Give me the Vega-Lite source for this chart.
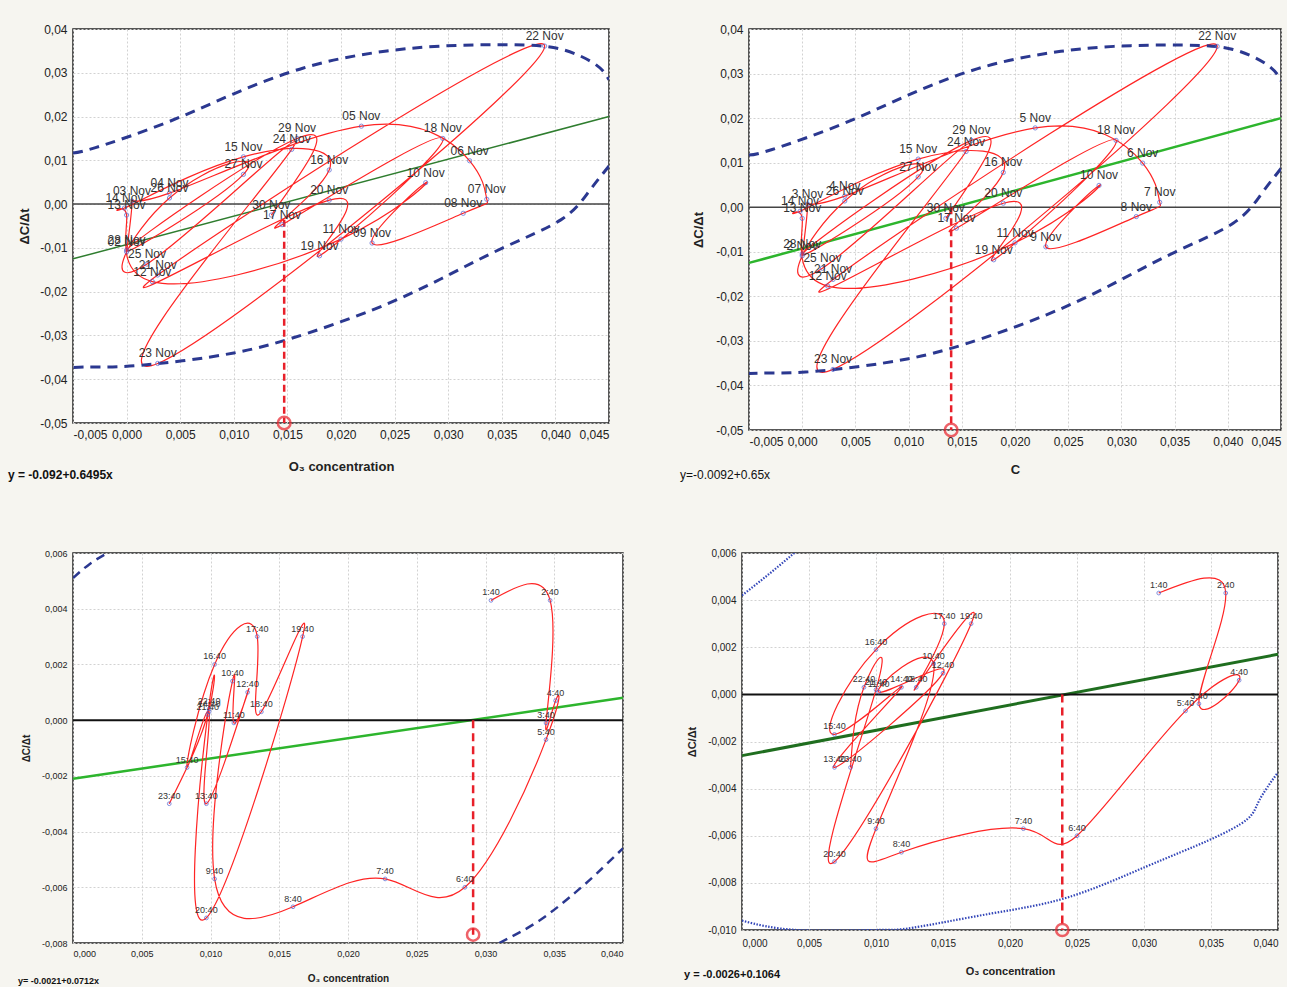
{
  "$schema": "https://vega.github.io/schema/vega-lite/v6.json",
  "padding": {"left": 7, "top": 22, "right": 0, "bottom": 0},
  "datasets": {
    "nov": [
      {"i": 2, "d1": "02 Nov", "d2": "2 Nov", "x": 0.0, "y": -0.0109},
      {"i": 3, "d1": "03 Nov", "d2": "3 Nov", "x": 0.0005, "y": 0.0007},
      {"i": 4, "d1": "04 Nov", "d2": "4 Nov", "x": 0.004, "y": 0.0025},
      {"i": 5, "d1": "05 Nov", "d2": "5 Nov", "x": 0.0219, "y": 0.0178},
      {"i": 6, "d1": "06 Nov", "d2": "6 Nov", "x": 0.032, "y": 0.0099},
      {"i": 7, "d1": "07 Nov", "d2": "7 Nov", "x": 0.0336, "y": 0.0011},
      {"i": 8, "d1": "08 Nov", "d2": "8 Nov", "x": 0.0314, "y": -0.0021},
      {"i": 9, "d1": "09 Nov", "d2": "9 Nov", "x": 0.0229, "y": -0.0089},
      {"i": 10, "d1": "10 Nov", "d2": "10 Nov", "x": 0.0279, "y": 0.0049},
      {"i": 11, "d1": "11 Nov", "d2": "11 Nov", "x": 0.02, "y": -0.008},
      {"i": 12, "d1": "12 Nov", "d2": "12 Nov", "x": 0.0024, "y": -0.0177},
      {"i": 13, "d1": "13 Nov", "d2": "13 Nov", "x": 0.0, "y": -0.0025},
      {"i": 14, "d1": "14 Nov", "d2": "14 Nov", "x": -0.0002, "y": -0.0009},
      {"i": 15, "d1": "15 Nov", "d2": "15 Nov", "x": 0.0109, "y": 0.0108},
      {"i": 16, "d1": "16 Nov", "d2": "16 Nov", "x": 0.0189, "y": 0.0078},
      {"i": 17, "d1": "17 Nov", "d2": "17 Nov", "x": 0.0145, "y": -0.0047},
      {"i": 18, "d1": "18 Nov", "d2": "18 Nov", "x": 0.0295, "y": 0.015},
      {"i": 19, "d1": "19 Nov", "d2": "19 Nov", "x": 0.018, "y": -0.0118},
      {"i": 20, "d1": "20 Nov", "d2": "20 Nov", "x": 0.0189, "y": 0.0009},
      {"i": 21, "d1": "21 Nov", "d2": "21 Nov", "x": 0.0029, "y": -0.0162},
      {"i": 22, "d1": "22 Nov", "d2": "22 Nov", "x": 0.039, "y": 0.0361},
      {"i": 23, "d1": "23 Nov", "d2": "23 Nov", "x": 0.0029, "y": -0.0364},
      {"i": 24, "d1": "24 Nov", "d2": "24 Nov", "x": 0.0154, "y": 0.0125},
      {"i": 25, "d1": "25 Nov", "d2": "25 Nov", "x": 0.0019, "y": -0.0137},
      {"i": 26, "d1": "26 Nov", "d2": "26 Nov", "x": 0.004, "y": 0.0014},
      {"i": 27, "d1": "27 Nov", "d2": "27 Nov", "x": 0.0109, "y": 0.0068},
      {"i": 28, "d1": "28 Nov", "d2": "28 Nov", "x": 0.0, "y": -0.0105},
      {"i": 29, "d1": "29 Nov", "d2": "29 Nov", "x": 0.0159, "y": 0.015},
      {"i": 30, "d1": "30 Nov", "d2": "30 Nov", "x": 0.0135, "y": -0.0025}
    ],
    "h3": [
      {"i": 1, "t": "1:40", "x": 0.0304, "y": 0.0043},
      {"i": 2, "t": "2:40", "x": 0.0347, "y": 0.0043},
      {"i": 3, "t": "3:40", "x": 0.0344, "y": -0.0001},
      {"i": 4, "t": "4:40", "x": 0.0351, "y": 0.0007},
      {"i": 5, "t": "5:40", "x": 0.0344, "y": -0.0007},
      {"i": 6, "t": "6:40", "x": 0.0285, "y": -0.006},
      {"i": 7, "t": "7:40", "x": 0.0227, "y": -0.0057},
      {"i": 8, "t": "8:40", "x": 0.016, "y": -0.0067},
      {"i": 9, "t": "9:40", "x": 0.0103, "y": -0.0057},
      {"i": 10, "t": "10:40", "x": 0.0116, "y": 0.0014},
      {"i": 11, "t": "11:40", "x": 0.0117, "y": -0.0001},
      {"i": 12, "t": "12:40", "x": 0.0127, "y": 0.001},
      {"i": 13, "t": "13:40", "x": 0.0097, "y": -0.003},
      {"i": 14, "t": "14:40", "x": 0.0099, "y": 0.0003},
      {"i": 15, "t": "15:40", "x": 0.0083, "y": -0.0017},
      {"i": 16, "t": "16:40", "x": 0.0103, "y": 0.002},
      {"i": 17, "t": "17:40", "x": 0.0134, "y": 0.003},
      {"i": 18, "t": "18:40", "x": 0.0137, "y": 0.0003},
      {"i": 19, "t": "19:40", "x": 0.0167, "y": 0.003},
      {"i": 20, "t": "20:40", "x": 0.0097, "y": -0.0071},
      {"i": 21, "t": "21:40", "x": 0.0098, "y": 0.0002},
      {"i": 22, "t": "22:40", "x": 0.0099, "y": 0.0004},
      {"i": 23, "t": "23:40", "x": 0.007, "y": -0.003}
    ],
    "h4": [
      {"i": 1, "t": "1:40", "x": 0.0311, "y": 0.0043},
      {"i": 2, "t": "2:40", "x": 0.0361, "y": 0.0043},
      {"i": 3, "t": "3:40", "x": 0.0341, "y": -0.0004},
      {"i": 4, "t": "4:40", "x": 0.0371, "y": 0.0006},
      {"i": 5, "t": "5:40", "x": 0.0331, "y": -0.0007},
      {"i": 6, "t": "6:40", "x": 0.025, "y": -0.006},
      {"i": 7, "t": "7:40", "x": 0.021, "y": -0.0057},
      {"i": 8, "t": "8:40", "x": 0.0119, "y": -0.0067},
      {"i": 9, "t": "9:40", "x": 0.01, "y": -0.0057},
      {"i": 10, "t": "10:40", "x": 0.0143, "y": 0.0013},
      {"i": 11, "t": "11:40", "x": 0.0102, "y": 0.0001},
      {"i": 12, "t": "12:40", "x": 0.015, "y": 0.0009},
      {"i": 13, "t": "13:40", "x": 0.0069, "y": -0.0031},
      {"i": 14, "t": "14:40", "x": 0.0119, "y": 0.0003},
      {"i": 15, "t": "15:40", "x": 0.0069, "y": -0.0017},
      {"i": 16, "t": "16:40", "x": 0.01, "y": 0.0019},
      {"i": 17, "t": "17:40", "x": 0.0151, "y": 0.003},
      {"i": 18, "t": "18:40", "x": 0.013, "y": 0.0003},
      {"i": 19, "t": "19:40", "x": 0.0171, "y": 0.003},
      {"i": 20, "t": "20:40", "x": 0.0069, "y": -0.0071},
      {"i": 21, "t": "21:40", "x": 0.01, "y": 0.0002},
      {"i": 22, "t": "22:40", "x": 0.0091, "y": 0.0003},
      {"i": 23, "t": "23:40", "x": 0.0081, "y": -0.0031}
    ],
    "e1": [
      {"s": "a", "i": 1, "x": -0.005, "y": 0.0117},
      {"s": "a", "i": 2, "x": -0.0029, "y": 0.0129},
      {"s": "a", "i": 3, "x": 0.0036, "y": 0.0185},
      {"s": "a", "i": 4, "x": 0.01, "y": 0.0252},
      {"s": "a", "i": 5, "x": 0.0165, "y": 0.0311},
      {"s": "a", "i": 6, "x": 0.0229, "y": 0.0345},
      {"s": "a", "i": 7, "x": 0.0293, "y": 0.0361},
      {"s": "a", "i": 8, "x": 0.0358, "y": 0.0364},
      {"s": "a", "i": 9, "x": 0.0405, "y": 0.0354},
      {"s": "a", "i": 10, "x": 0.0438, "y": 0.0318},
      {"s": "a", "i": 11, "x": 0.045, "y": 0.0284},
      {"s": "b", "i": 1, "x": 0.045, "y": 0.0087},
      {"s": "b", "i": 2, "x": 0.0431, "y": 0.0028},
      {"s": "b", "i": 3, "x": 0.0405, "y": -0.0036},
      {"s": "b", "i": 4, "x": 0.0351, "y": -0.01},
      {"s": "b", "i": 5, "x": 0.0293, "y": -0.0171},
      {"s": "b", "i": 6, "x": 0.0229, "y": -0.0242},
      {"s": "b", "i": 7, "x": 0.0152, "y": -0.0308},
      {"s": "b", "i": 8, "x": 0.01, "y": -0.034},
      {"s": "b", "i": 9, "x": 0.0052, "y": -0.0358},
      {"s": "b", "i": 10, "x": 0.0003, "y": -0.037},
      {"s": "b", "i": 11, "x": -0.0029, "y": -0.0372},
      {"s": "b", "i": 12, "x": -0.005, "y": -0.0373}
    ],
    "e3": [
      {"s": "a", "i": 1, "x": 0.0, "y": 0.0051},
      {"s": "a", "i": 2, "x": 0.0012, "y": 0.0056},
      {"s": "a", "i": 3, "x": 0.0025, "y": 0.006},
      {"s": "b", "i": 1, "x": 0.031, "y": -0.008},
      {"s": "b", "i": 2, "x": 0.0339, "y": -0.0072},
      {"s": "b", "i": 3, "x": 0.0365, "y": -0.0062},
      {"s": "b", "i": 4, "x": 0.0381, "y": -0.0055},
      {"s": "b", "i": 5, "x": 0.04, "y": -0.0046}
    ],
    "e4": [
      {"s": "a", "i": 1, "x": 0.0, "y": 0.0042},
      {"s": "a", "i": 2, "x": 0.002, "y": 0.0051},
      {"s": "a", "i": 3, "x": 0.0039, "y": 0.006},
      {"s": "b", "i": 1, "x": 0.0, "y": -0.0096},
      {"s": "b", "i": 2, "x": 0.0041, "y": -0.01},
      {"s": "b", "i": 3, "x": 0.0099, "y": -0.01},
      {"s": "b", "i": 4, "x": 0.0128, "y": -0.0099},
      {"s": "b", "i": 5, "x": 0.0186, "y": -0.0093},
      {"s": "b", "i": 6, "x": 0.0244, "y": -0.0086},
      {"s": "b", "i": 7, "x": 0.0302, "y": -0.0073},
      {"s": "b", "i": 8, "x": 0.0348, "y": -0.0062},
      {"s": "b", "i": 9, "x": 0.0377, "y": -0.0053},
      {"s": "b", "i": 10, "x": 0.0386, "y": -0.0045},
      {"s": "b", "i": 11, "x": 0.04, "y": -0.0033}
    ],
    "g1": [{"x": -0.005, "y": -0.0125}, {"x": 0.045, "y": 0.02}],
    "g2": [{"x": -0.005, "y": -0.0125}, {"x": 0.045, "y": 0.02}],
    "g3": [{"x": 0.0, "y": -0.0021}, {"x": 0.04, "y": 0.0008}],
    "g4": [{"x": 0.0, "y": -0.0026}, {"x": 0.04, "y": 0.0017}],
    "zt": [{"x": -0.005, "y": 0}, {"x": 0.045, "y": 0}],
    "zb": [{"x": 0.0, "y": 0}, {"x": 0.04, "y": 0}],
    "c1": [{"x": 0.0147, "y": -0.0036, "y2": -0.05}],
    "c2": [{"x": 0.014, "y": 0.0, "y2": -0.05}],
    "c3": [{"x": 0.0291, "y": 0.0, "y2": -0.0077}],
    "c4": [{"x": 0.0239, "y": 0.0, "y2": -0.01}],
    "o1": [{"x": 0.0147, "y": -0.05}],
    "o2": [{"x": 0.014, "y": -0.05}],
    "o3": [{"x": 0.0291, "y": -0.0077}],
    "o4": [{"x": 0.0239, "y": -0.01}]
  },
  "vconcat": [
    {
      "hconcat": [
        {
          "width": 536, "height": 394,
          "title": {"text": "y = -0.092+0.6495x", "orient": "bottom", "anchor": "start", "frame": "group", "dx": -65, "dy": -7, "fontSize": 12, "fontWeight": "bold", "color": "#111"},
          "encoding": {
            "x": {"field": "x", "type": "quantitative", "scale": {"domain": [-0.005, 0.045], "nice": false, "zero": false},
              "axis": {"values": [-0.005, 0, 0.005, 0.01, 0.015, 0.02, 0.025, 0.03, 0.035, 0.04, 0.045], "format": ".3f", "labelFontSize": 12, "labelPadding": 6, "title": "O₃ concentration", "titleFontSize": 13, "titleFontWeight": "bold", "titlePadding": 20}},
            "y": {"field": "y", "type": "quantitative", "scale": {"domain": [-0.05, 0.04], "nice": false, "zero": false},
              "axis": {"values": [-0.05, -0.04, -0.03, -0.02, -0.01, 0, 0.01, 0.02, 0.03, 0.04], "format": ".2f", "labelFontSize": 12, "labelPadding": 6, "title": "ΔC/Δt", "titleFontSize": 13, "titleFontWeight": "bold", "titlePadding": 8}}
          },
          "layer": [
            {"data": {"name": "g1"}, "mark": {"type": "line", "color": "#2f7d2f", "strokeWidth": 1.5}, "encoding": {}},
            {"data": {"name": "zt"}, "mark": {"type": "line", "color": "#444", "strokeWidth": 1.5}, "encoding": {}},
            {"data": {"name": "nov"}, "mark": {"type": "line", "interpolate": "natural", "color": "#ff2424", "strokeWidth": 1.2, "clip": true}, "encoding": {"order": {"field": "i", "type": "quantitative"}}},
            {"data": {"name": "e1"}, "mark": {"type": "line", "interpolate": "natural", "color": "#2b3890", "strokeWidth": 3, "strokeDash": [10, 7], "clip": true}, "encoding": {"detail": {"field": "s", "type": "nominal"}, "order": {"field": "i", "type": "quantitative"}}},
            {"data": {"name": "c1"}, "mark": {"type": "rule", "color": "#e8202a", "strokeWidth": 2.5, "strokeDash": [7, 4]}, "encoding": {"y2": {"field": "y2"}}},
            {"data": {"name": "o1"}, "mark": {"type": "point", "filled": false, "color": "#e8202a", "strokeWidth": 2.5, "size": 160}, "encoding": {}},
            {"data": {"name": "nov"}, "mark": {"type": "point", "filled": false, "color": "#4f5fd0", "strokeWidth": 1, "size": 18}, "encoding": {}},
            {"data": {"name": "nov"}, "mark": {"type": "text", "dy": -6, "baseline": "alphabetic", "fontSize": 12, "color": "#333"}, "encoding": {"text": {"field": "d1"}}}
          ]
        },
        {
          "width": 532, "height": 401,
          "title": {"text": "y=-0.0092+0.65x", "orient": "bottom", "anchor": "start", "frame": "group", "dx": -69, "dy": -10, "fontSize": 12, "fontWeight": "normal", "color": "#111"},
          "encoding": {
            "x": {"field": "x", "type": "quantitative", "scale": {"domain": [-0.005, 0.045], "nice": false, "zero": false},
              "axis": {"values": [-0.005, 0, 0.005, 0.01, 0.015, 0.02, 0.025, 0.03, 0.035, 0.04, 0.045], "format": ".3f", "labelFontSize": 12, "labelPadding": 6, "title": "C", "titleFontSize": 13, "titleFontWeight": "bold", "titlePadding": 16}},
            "y": {"field": "y", "type": "quantitative", "scale": {"domain": [-0.05, 0.04], "nice": false, "zero": false},
              "axis": {"values": [-0.05, -0.04, -0.03, -0.02, -0.01, 0, 0.01, 0.02, 0.03, 0.04], "format": ".2f", "labelFontSize": 12, "labelPadding": 6, "title": "ΔC/Δt", "titleFontSize": 13, "titleFontWeight": "bold", "titlePadding": 10}}
          },
          "layer": [
            {"data": {"name": "g2"}, "mark": {"type": "line", "color": "#2db52d", "strokeWidth": 2.5}, "encoding": {}},
            {"data": {"name": "zt"}, "mark": {"type": "line", "color": "#444", "strokeWidth": 1.5}, "encoding": {}},
            {"data": {"name": "nov"}, "mark": {"type": "line", "interpolate": "natural", "color": "#ff2424", "strokeWidth": 1.2, "clip": true}, "encoding": {"order": {"field": "i", "type": "quantitative"}}},
            {"data": {"name": "e1"}, "mark": {"type": "line", "interpolate": "natural", "color": "#2b3890", "strokeWidth": 3, "strokeDash": [10, 7], "clip": true}, "encoding": {"detail": {"field": "s", "type": "nominal"}, "order": {"field": "i", "type": "quantitative"}}},
            {"data": {"name": "c2"}, "mark": {"type": "rule", "color": "#e8202a", "strokeWidth": 2.5, "strokeDash": [7, 4]}, "encoding": {"y2": {"field": "y2"}}},
            {"data": {"name": "o2"}, "mark": {"type": "point", "filled": false, "color": "#e8202a", "strokeWidth": 2.5, "size": 160}, "encoding": {}},
            {"data": {"name": "nov"}, "mark": {"type": "point", "filled": false, "color": "#4f5fd0", "strokeWidth": 1, "size": 18}, "encoding": {}},
            {"data": {"name": "nov"}, "mark": {"type": "text", "dy": -6, "baseline": "alphabetic", "fontSize": 12, "color": "#333"}, "encoding": {"text": {"field": "d2"}}}
          ]
        }
      ],
      "spacing": 66
    },
    {
      "hconcat": [
        {
          "width": 550, "height": 390,
          "title": {"text": "y= -0.0021+0.0712x", "orient": "bottom", "anchor": "start", "frame": "group", "dx": -55, "dy": -10, "fontSize": 9, "fontWeight": "bold", "color": "#111"},
          "encoding": {
            "x": {"field": "x", "type": "quantitative", "scale": {"domain": [0, 0.04], "nice": false, "zero": false},
              "axis": {"values": [0, 0.005, 0.01, 0.015, 0.02, 0.025, 0.03, 0.035, 0.04], "format": ".3f", "labelFontSize": 9, "labelPadding": 6, "title": "O₃ concentration", "titleFontSize": 10, "titleFontWeight": "bold", "titlePadding": 15}},
            "y": {"field": "y", "type": "quantitative", "scale": {"domain": [-0.008, 0.006], "nice": false, "zero": false},
              "axis": {"values": [-0.008, -0.006, -0.004, -0.002, 0, 0.002, 0.004, 0.006], "format": ".3f", "labelFontSize": 9, "labelPadding": 6, "title": "ΔC/Δt", "titleFontSize": 10, "titleFontWeight": "bold", "titlePadding": 10}}
          },
          "layer": [
            {"data": {"name": "g3"}, "mark": {"type": "line", "color": "#2db52d", "strokeWidth": 2.5}, "encoding": {}},
            {"data": {"name": "zb"}, "mark": {"type": "line", "color": "#111", "strokeWidth": 2}, "encoding": {}},
            {"data": {"name": "h3"}, "mark": {"type": "line", "interpolate": "natural", "color": "#ff2424", "strokeWidth": 1.2, "clip": true}, "encoding": {"order": {"field": "i", "type": "quantitative"}}},
            {"data": {"name": "e3"}, "mark": {"type": "line", "interpolate": "natural", "color": "#2b3890", "strokeWidth": 2.5, "strokeDash": [9, 6], "clip": true}, "encoding": {"detail": {"field": "s", "type": "nominal"}, "order": {"field": "i", "type": "quantitative"}}},
            {"data": {"name": "c3"}, "mark": {"type": "rule", "color": "#e8202a", "strokeWidth": 2.5, "strokeDash": [8, 5]}, "encoding": {"y2": {"field": "y2"}}},
            {"data": {"name": "o3"}, "mark": {"type": "point", "filled": false, "color": "#e8202a", "strokeWidth": 2.5, "size": 150}, "encoding": {}},
            {"data": {"name": "h3"}, "mark": {"type": "point", "filled": false, "color": "#4f5fd0", "strokeWidth": 1, "size": 14}, "encoding": {}},
            {"data": {"name": "h3"}, "mark": {"type": "text", "dy": -5, "baseline": "alphabetic", "fontSize": 9, "color": "#333"}, "encoding": {"text": {"field": "t"}}}
          ]
        },
        {
          "width": 536, "height": 377,
          "title": {"text": "y = -0.0026+0.1064", "orient": "bottom", "anchor": "start", "frame": "group", "dx": -58, "dy": -11, "fontSize": 11, "fontWeight": "bold", "color": "#111"},
          "encoding": {
            "x": {"field": "x", "type": "quantitative", "scale": {"domain": [0, 0.04], "nice": false, "zero": false},
              "axis": {"values": [0, 0.005, 0.01, 0.015, 0.02, 0.025, 0.03, 0.035, 0.04], "format": ".3f", "labelFontSize": 10, "labelPadding": 8, "title": "O₃ concentration", "titleFontSize": 11, "titleFontWeight": "bold", "titlePadding": 17}},
            "y": {"field": "y", "type": "quantitative", "scale": {"domain": [-0.01, 0.006], "nice": false, "zero": false},
              "axis": {"values": [-0.01, -0.008, -0.006, -0.004, -0.002, 0, 0.002, 0.004, 0.006], "format": ".3f", "labelFontSize": 10, "labelPadding": 6, "title": "ΔC/Δt", "titleFontSize": 11, "titleFontWeight": "bold", "titlePadding": 10}}
          },
          "layer": [
            {"data": {"name": "g4"}, "mark": {"type": "line", "color": "#1f6e1f", "strokeWidth": 3}, "encoding": {}},
            {"data": {"name": "zb"}, "mark": {"type": "line", "color": "#111", "strokeWidth": 2}, "encoding": {}},
            {"data": {"name": "h4"}, "mark": {"type": "line", "interpolate": "natural", "color": "#ff2424", "strokeWidth": 1.2, "clip": true}, "encoding": {"order": {"field": "i", "type": "quantitative"}}},
            {"data": {"name": "e4"}, "mark": {"type": "line", "interpolate": "natural", "color": "#3346b8", "strokeWidth": 2.2, "strokeDash": [1.5, 1.5], "clip": true}, "encoding": {"detail": {"field": "s", "type": "nominal"}, "order": {"field": "i", "type": "quantitative"}}},
            {"data": {"name": "c4"}, "mark": {"type": "rule", "color": "#e8202a", "strokeWidth": 2.5, "strokeDash": [8, 5]}, "encoding": {"y2": {"field": "y2"}}},
            {"data": {"name": "o4"}, "mark": {"type": "point", "filled": false, "color": "#e8202a", "strokeWidth": 2.5, "size": 150}, "encoding": {}},
            {"data": {"name": "h4"}, "mark": {"type": "point", "filled": false, "color": "#4f5fd0", "strokeWidth": 1, "size": 14}, "encoding": {}},
            {"data": {"name": "h4"}, "mark": {"type": "text", "dy": -5, "baseline": "alphabetic", "fontSize": 9, "color": "#333"}, "encoding": {"text": {"field": "t"}}}
          ]
        }
      ],
      "spacing": 54
    }
  ],
  "spacing": 65,
  "config": {
    "font": "Liberation Sans",
    "background": "#f6f5f0",
    "view": {"stroke": "#222", "strokeWidth": 1.5, "fill": "white"},
    "axis": {"grid": true, "gridColor": "#d2d2d2", "gridDash": [2, 2], "domain": false, "ticks": false, "labelColor": "#222", "titleColor": "#222", "labelFont": "Liberation Sans", "titleFont": "Liberation Sans"},
    "title": {"font": "Liberation Sans"},
    "locale": {"number": {"decimal": ",", "thousands": ".", "grouping": [3], "currency": ["", ""], "minus": "-"}}
  }
}
